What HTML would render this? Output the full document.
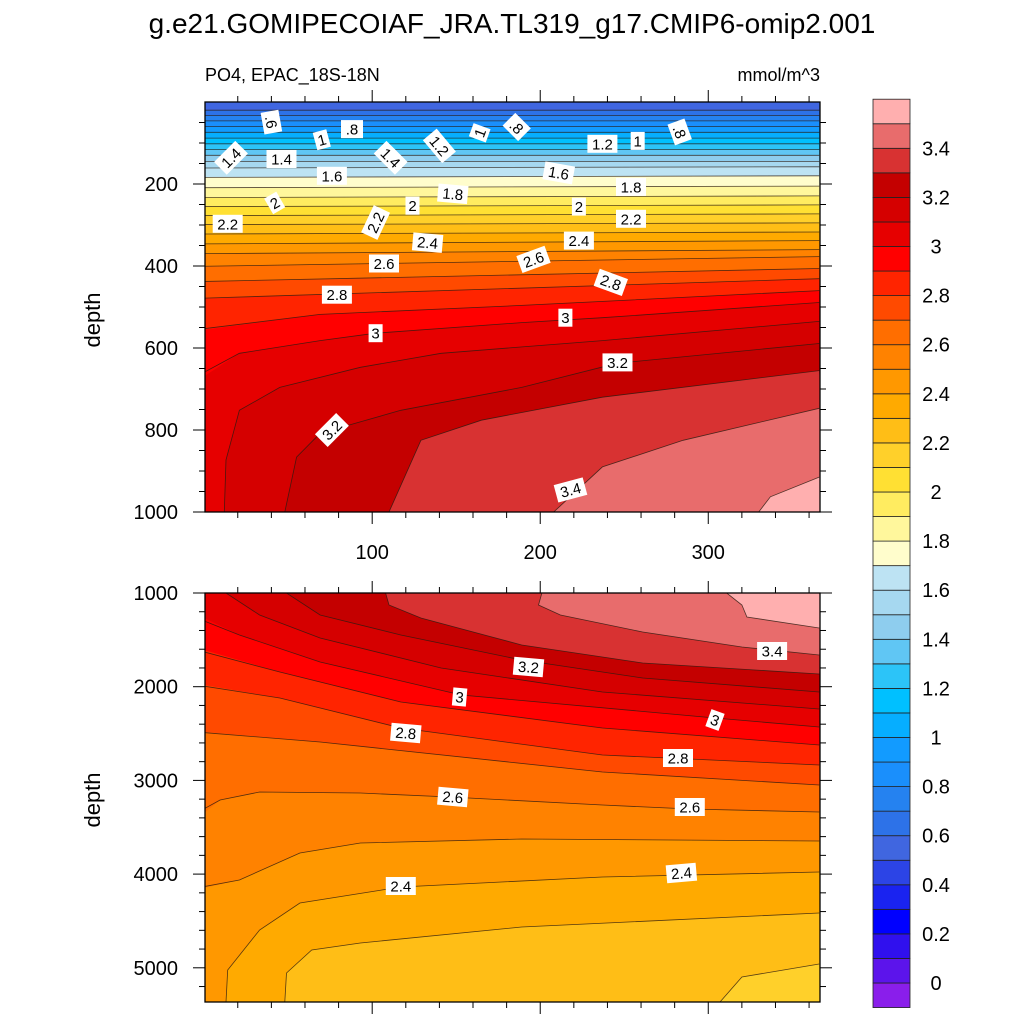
<!DOCTYPE html>
<html><head><meta charset="utf-8"><style>
html,body{margin:0;padding:0;background:#fff;}
svg{display:block;font-family:"Liberation Sans",Arial,sans-serif;}
</style></head><body>
<svg id="chart" width="1024" height="1024" viewBox="0 0 1024 1024" xmlns="http://www.w3.org/2000/svg">
<rect x="0" y="0" width="1024" height="1024" fill="#fff"/>
<text x="512" y="33" font-size="28" text-anchor="middle">g.e21.GOMIPECOIAF_JRA.TL319_g17.CMIP6-omip2.001</text>
<text x="205" y="81" font-size="18">PO4, EPAC_18S-18N</text>
<text x="820" y="81" font-size="18" text-anchor="end">mmol/m^3</text>
<text transform="translate(100,320) rotate(-90)" font-size="22" text-anchor="middle">depth</text>
<text transform="translate(100,800) rotate(-90)" font-size="22" text-anchor="middle">depth</text>
<defs>
<clipPath id="clipTop"><rect x="205" y="102" width="615" height="410"/></clipPath>
<clipPath id="clipBot"><rect x="205" y="593" width="615" height="409"/></clipPath>
</defs>
<g id="topPanel" clip-path="url(#clipTop)"></g>
<g id="botPanel" clip-path="url(#clipBot)"></g>
<g id="overlay"></g>
</svg>
<script>
// ---- data ----
const palette = ['#8A1EEB','#5C14EB','#3010EE','#0000FF','#1A23F0','#2C44E6','#4066E0','#2D72E8','#2582F0','#1A8FFC','#129BFF','#06AEFF','#00C0FF','#2CC4F8','#60C6F4','#8ECDEE','#A6D8F0','#BDE3F3','#FFFDCC','#FFF79C','#FFEC60','#FFE033','#FFD02A','#FFBE16','#FFAA00','#FF9800','#FF8200','#FF6E00','#FF4A00','#FF2400','#FF0000','#E60000','#D50000','#C40000','#D83232','#E86C6C','#FFAFAF'];
const colorbarLabels = ['0','0.2','0.4','0.6','0.8','1','1.2','1.4','1.6','1.8','2','2.2','2.4','2.6','2.8','3','3.2','3.4'];
const colorbarLabelValues = [0,0.2,0.4,0.6,0.8,1,1.2,1.4,1.6,1.8,2,2.2,2.4,2.6,2.8,3,3.2,3.4];

// upper panel (0-1000 m): value increases with depth; contour depth vs day
const topLevels = [0.6,0.7,0.8,0.9,1.0,1.1,1.2,1.3,1.4,1.5,1.6,1.7,1.8,1.9,2.0,2.1,2.2,2.3,2.4,2.5,2.6,2.7,2.8,2.9,3.0,3.1,3.2,3.3,3.4,3.5];
const topDays = [
 [0,366],[0,366],[0,366],[0,366],[0,366],[0,366],[0,366],[0,366],[0,366],[0,366],
 [0,366],[0,366],[0,366],[0,366],[0,366],[0,366],[0,366],[0,366],[0,366],[0,366],
 [0,366],[0,366],[0,366],
 [0,69,189,366],
 [0,21,69,102,189,237,366],
 [12,13,21,45,93,141,237,366],
 [48,55,69,117,189,246,366],
 [110,129,165,237,366],
 [208,237,285,366],
 [330,337,366]
];
const topDepths = [
 [20,20],[33,33],[46,46],[60,60],[74,74],[88,88],[102,102],[116,116],[130,130],[145,145],
 [161,158],[184,180],[209,205],[233,229],[255,251],[277,273],[299,295],[322,317],[346,338],[370,360],
 [401,377],[438,406],[479,431],
 [555,518,496,460],
 [669,613,582,564,538,526,489],
 [1000,873,752,696,647,613,582,535],
 [1000,866,808,752,696,637,589],
 [1000,825,776,720,655],
 [1000,890,825,747],
 [1000,963,915]
];
// lower panel (1000-5365 m): value decreases with depth
const botLevels = [2.2,2.3,2.4,2.5,2.6,2.7,2.8,2.9,3.0,3.1,3.2,3.3,3.4,3.5];
const botDays = [
 [307,320,366],
 [48,49,64,93,189,366],
 [13,14,33,57,117,237,366],
 [0,21,57,93,189,366],
 [0,9.5,33,93,146,237,289,366],
 [0,69,237,366],
 [0,45,117,237,366],
 [0,45,117,237,366],
 [0,21,69,153,304,366],
 [13,33,69,141,237,366],
 [49,69,117,189,261,366],
 [108,110,129,189,261,366],
 [201,199,212,261,320,366],
 [311,320,323,366]
];
const botDepths = [
 [5365,5098,4959],
 [5365,5055,4810,4735,4565,4415],
 [5365,5023,4597,4308,4138,4031,3978],
 [4148,4063,3775,3668,3625,3647],
 [3348,3209,3124,3134,3177,3263,3305,3337],
 [2483,2590,2910,3049],
 [1982,2121,2441,2729,2836],
 [1608,1843,2163,2441,2622],
 [1267,1448,1736,2089,2334,2430],
 [1000,1235,1480,1800,2057,2238],
 [1000,1235,1448,1715,1907,2057],
 [1000,1128,1267,1555,1747,1864],
 [1000,1128,1235,1416,1576,1662],
 [1000,1128,1256,1374]
];
// contour labels
const topLabelText = ['.6','1','.8','1.4','1.4','1.6','1.4','1.2','1','.8','1.2','1','.8','1.6','1.8','1.8','2','2','2','2.2','2.2','2.2','2.4','2.4','2.6','2.6','2.8','2.8','3','3','3.2','3.2','3.4'];
const topLabelDay = [40,70,88,16,46,76,111,140,164,186,237,258,283,211,148,254,42,124,223,14,102,254,133,223,107,196,242,79,102,215,246,76,218];
const topLabelDepth = [49,92,66,136,139,180,136,107,75,61,102,95,73,173,224,207,246,253,255,297,294,285,343,338,394,384,440,470,564,526,635,800,946];
const topLabelRot = [80,-15,0,-45,0,0,45,50,-70,45,0,0,70,10,5,0,-30,0,0,0,-65,0,5,0,0,-20,20,0,0,0,0,-45,-15];
const botLabelText = ['3.2','3','3.4','3','2.8','2.8','2.6','2.6','2.4','2.4'];
const botLabelDay = [193,152,338,304,120,282,148,289,117,284];
const botLabelDepth = [1790,2110,1619,2355,2494,2761,3177,3284,4127,3988];
const botLabelRot = [5,5,0,20,5,0,5,0,0,-5];

// ---- axes ----
const X0=205, X1=820, T0=0.5, T1=366.5;
function xDay(t){ return X0 + (t-T0)*(X1-X0)/(T1-T0); }
const TOPY0=102, TOPY1=512, TD0=0, TD1=1000;
function yTop(d){ return TOPY0 + (d-TD0)*(TOPY1-TOPY0)/(TD1-TD0); }
const BOTY0=593, BOTY1=1002, BD0=1000, BD1=5365;
function yBot(d){ return BOTY0 + (d-BD0)*(BOTY1-BOTY0)/(BD1-BD0); }
function colorFor(level){ return palette[Math.round(level*10)+1]; }

const NS='http://www.w3.org/2000/svg';
function mk(tag, attrs, parent){ const e=document.createElementNS(NS,tag); for(const k in attrs) e.setAttribute(k,attrs[k]); parent.appendChild(e); return e; }

function drawPanel(g, levels, days, depths, yf, dTop, dBot, greaterDeep, baseColor, prefix){
  const bg = mk('rect',{x:X0,y:yf(dTop),width:X1-X0,height:yf(dBot)-yf(dTop),fill:baseColor},g);
  
  
  for(let i=0;i<levels.length;i++){
    const ts=days[i], ds=depths[i];
    const pts=ts.map((t,j)=>[xDay(t), yf(ds[j])]);
    const first=[ts[0],ds[0]];
    const poly=pts.slice();
    const gEdge = greaterDeep ? dBot : dTop;
    const oEdge = greaterDeep ? dTop : dBot;
    poly.push([xDay(T1+5), yf(gEdge)]);
    if(first[0]>1 && Math.abs(first[1]-oEdge)<1){
      poly.push([xDay(T0-5), yf(gEdge)]);
      poly.push([xDay(T0-5), yf(oEdge)]);
    } else if(first[0]<=1){
      poly.push([xDay(T0-5), yf(gEdge)]);
      poly.push([xDay(T0-5), yf(first[1])]);
    } else {
      poly.push([xDay(first[0]), yf(gEdge)]);
    }
    const p = mk('polygon',{points:poly.map(p=>p[0].toFixed(1)+','+p[1].toFixed(1)).join(' '),fill:colorFor(levels[i])},g);
    
    
  }
  for(let i=0;i<levels.length;i++){
    const ts=days[i], ds=depths[i];
    const lp=ts.map((t,j)=>[t<=1?xDay(T0-5):xDay(t), yf(ds[j])]);
    const l = mk('polyline',{points:lp.map(p=>p[0].toFixed(1)+','+p[1].toFixed(1)).join(' '),fill:'none',stroke:'#2a1a10','stroke-width':0.8,'stroke-opacity':0.8},g);
    
    
  }
}
function drawLabels(g, txt, days, deps, rots, yf, prefix){
  for(let i=0;i<txt.length;i++){
    const x=xDay(days[i]), y=yf(deps[i]);
    const lg=mk('g',{transform:'translate('+x.toFixed(1)+','+y.toFixed(1)+') rotate('+rots[i]+')'},g);
    
    
    const w = txt[i].length*8+6;
    mk('rect',{x:-w/2,y:-9,width:w,height:18,fill:'#fff'},lg);
    const t=mk('text',{x:0,y:5.5,'font-size':15,'text-anchor':'middle',fill:'#000'},lg);
    t.textContent=txt[i];
  }
}
const topG=document.getElementById('topPanel');
const botG=document.getElementById('botPanel');
drawPanel(topG, topLevels, topDays, topDepths, yTop, TD0, TD1, true, palette[6], 'top');
drawPanel(botG, botLevels, botDays, botDepths, yBot, BD0, BD1, false, palette[22], 'bottom');
drawLabels(topG, topLabelText, topLabelDay, topLabelDepth, topLabelRot, yTop, 'top');
drawLabels(botG, botLabelText, botLabelDay, botLabelDepth, botLabelRot, yBot, 'bottom');

// frames & ticks
const ov=document.getElementById('overlay');
function line(x1,y1,x2,y2,w){ mk('line',{x1:x1,y1:y1,x2:x2,y2:y2,stroke:'#000','stroke-width':w||1},ov); }
function frame(y0,y1,name){
  const r=mk('rect',{x:X0,y:y0,width:X1-X0,height:y1-y0,fill:'none',stroke:'#000','stroke-width':1.3},ov);
  
  
}
frame(TOPY0,TOPY1,'top-plot-frame');
frame(BOTY0,BOTY1,'bottom-plot-frame');
// x ticks
for(let t=20;t<=360;t+=20){
  const x=xDay(t), major=(t%100===0), L=major?12:6;
  line(x,TOPY0,x,TOPY0-L); line(x,TOPY1,x,TOPY1+L);
  line(x,BOTY0,x,BOTY0-L); line(x,BOTY1,x,BOTY1+L);
  if(major){
    const tx=mk('text',{x:x,y:559,'font-size':20,'text-anchor':'middle'},ov);
    
    
    tx.textContent=String(t);
  }
}
// y ticks top
for(let d=50; d<=1000; d+=50){
  const y=yTop(d), major=(d%200===0), L=major?12:6;
  line(X0,y,X0-L,y); line(X1,y,X1+L,y);
  if(major){
    const tx=mk('text',{x:178,y:y+7,'font-size':20,'text-anchor':'end'},ov);
    
    
    tx.textContent=String(d);
  }
}
for(let d=1000; d<=5200; d+=200){
  const y=yBot(d), major=(d%1000===0), L=major?12:6;
  line(X0,y,X0-L,y); line(X1,y,X1+L,y);
  if(major){
    const tx=mk('text',{x:178,y:y+7,'font-size':20,'text-anchor':'end'},ov);
    
    
    tx.textContent=String(d);
  }
}
// colorbar
const CB_X=873, CB_W=37, CB_ZERO=983, CB_STEP=24.55;
function yCb(v){ return CB_ZERO - v*10*CB_STEP; }
const cbG=mk('g',{},ov);


for(let i=0;i<palette.length;i++){
  const lo=(i-1)*0.1, hi=i*0.1;
  const yTopB=yCb(hi), yBotB=yCb(lo);
  const r=mk('rect',{x:CB_X,y:yTopB,width:CB_W,height:yBotB-yTopB,fill:palette[i],stroke:'#222','stroke-width':0.8},cbG);
  
  
}
for(let i=0;i<colorbarLabels.length;i++){
  const tx=mk('text',{x:936,y:yCb(colorbarLabelValues[i])+7,'font-size':20,'text-anchor':'middle'},cbG);
  
  
  tx.textContent=colorbarLabels[i];
}
</script>
</body></html>
